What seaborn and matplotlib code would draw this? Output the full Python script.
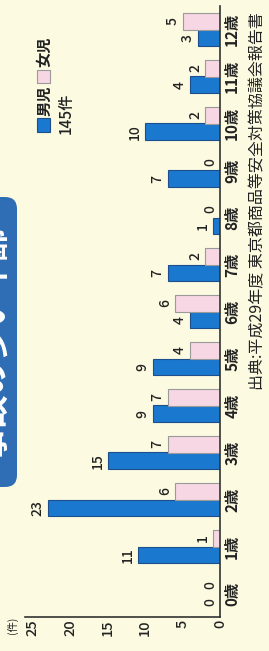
import matplotlib
matplotlib.use("Agg")
import matplotlib.pyplot as plt
import matplotlib.patches as mpatches
import matplotlib.transforms as mtransforms
import pandas as pd
import seaborn as sns

ages = ["0歳", "1歳", "2歳", "3歳", "4歳", "5歳", "6歳", "7歳", "8歳", "9歳", "10歳", "11歳", "12歳"]
boys = [0, 11, 23, 15, 9, 9, 4, 7, 1, 7, 10, 4, 3]
girls = [0, 1, 6, 7, 7, 4, 6, 2, 0, 0, 2, 2, 5]
xticks = [0, 5, 10, 15, 20, 25]

BG = "#fcfae0"
BLUE = "#1a78cf"
PINK = "#f7d7e3"
BLUE_EDGE = "#1d4f8c"
PINK_EDGE = "#9a9a9a"
INK = "#222222"

sns.set_style("white")
plt.rcParams["font.family"] = ["Noto Sans CJK JP", "DejaVu Sans"]

df = pd.DataFrame({
    "age": ages * 2,
    "count": boys + girls,
    "sex": ["男児"] * len(ages) + ["女児"] * len(ages),
})

W, H = 269, 651
fig = plt.figure(figsize=(W / 100, H / 100), dpi=100, facecolor=BG)
ax = fig.add_axes([25 / W, 1 - 617 / H, 195 / W, 611 / H])
ax.set_facecolor(BG)

sns.barplot(data=df, y="age", x="count", hue="sex", order=ages,
            hue_order=["男児", "女児"], palette=[BLUE, PINK], saturation=1,
            width=0.7, orient="h", ax=ax, legend=False)

ax.set_ylim(-0.5, 12.5)
ax.set_xlim(26, 0)

# bar edges + value labels (left of the bar end)
for cont, edge in zip(ax.containers, [BLUE_EDGE, PINK_EDGE]):
    for bar in cont:
        bar.set_edgecolor(edge)
        bar.set_linewidth(0.8)
        val = bar.get_width()
        yc = bar.get_y() + bar.get_height() / 2
        ax.annotate(f"{val:.0f}", xy=(val, yc), xytext=(-2, 0),
                    textcoords="offset points", rotation=90,
                    ha="right", va="center", fontsize=10, color=INK,
                    fontweight="medium")

# value axis
ax.set_xticks(xticks)
ax.set_xticklabels([str(t) for t in xticks])
ax.tick_params(axis="x", length=0, pad=2, labelrotation=90, labelsize=10.5, colors=INK)
for lab in ax.get_xticklabels():
    lab.set_va("top")
    lab.set_ha("center")
    lab.set_fontweight("medium")

# category axis
ax.yaxis.tick_right()
ax.set_yticks(range(len(ages)))
ax.set_yticklabels(ages)
ax.tick_params(axis="y", length=0, pad=3, labelrotation=90, labelsize=11, colors=INK)
for lab in ax.get_yticklabels():
    lab.set_va("center")
    lab.set_fontweight("bold")

ax.set_xlabel("")
ax.set_ylabel("")
for s in ["left", "top"]:
    ax.spines[s].set_visible(False)
for s in ["right", "bottom"]:
    ax.spines[s].set_color("#333333")
    ax.spines[s].set_linewidth(1.2)

px = mtransforms.IdentityTransform()

# title banner (cut at the left edge)
banner = mpatches.FancyBboxPatch((-40, H - 487), 57, 290,
                                 boxstyle="round,pad=0,rounding_size=12",
                                 transform=px, facecolor="#2f6db5", edgecolor="none")
fig.add_artist(banner)
fig.text(-5 / W, 1 - 342 / H, "事故の多い年齢", rotation=90, color="white",
         fontsize=24, fontweight="bold", ha="center", va="center")

# legend
fig.add_artist(mpatches.Rectangle((37, H - 132), 13, 14, transform=px,
                                  facecolor=BLUE, edgecolor=BLUE_EDGE, lw=0.8))
fig.add_artist(mpatches.Rectangle((37, H - 83), 13, 13, transform=px,
                                  facecolor=PINK, edgecolor=PINK_EDGE, lw=0.8))
fig.text(44 / W, 1 - 101 / H, "男児", rotation=90, fontsize=11, fontweight="bold",
         ha="center", va="center", color=INK)
fig.text(44 / W, 1 - 52 / H, "女児", rotation=90, fontsize=11, fontweight="bold",
         ha="center", va="center", color=INK)
fig.text(66 / W, 1 - 113 / H, "145件", rotation=90, fontsize=11, fontweight="medium",
         ha="center", va="center", color=INK)

# unit and source
fig.text(12 / W, 1 - 625 / H, "(件)", rotation=90, fontsize=7.5,
         ha="center", va="center", color=INK)
fig.text(258 / W, 1 - 201 / H, "出典:平成29年度 東京都商品等安全対策協議会報告書",
         rotation=90, fontsize=11.5, ha="center", va="center", color=INK)

fig.savefig("out.png", dpi=100, facecolor=BG)
